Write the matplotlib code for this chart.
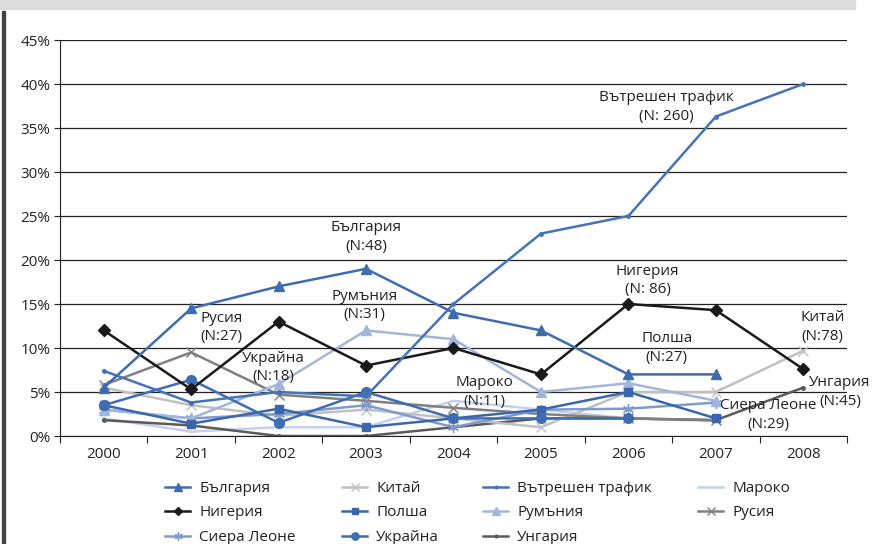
import numpy as np
import matplotlib
matplotlib.use("Agg")
import matplotlib.pyplot as plt
from matplotlib.patches import Rectangle

plt.rcParams['font.family'] = ['Open Sans', 'DejaVu Sans']
plt.rcParams['font.size'] = 11

# данни (%), nan = няма стойност
years = ["2000", "2001", "2002", "2003", "2004", "2005", "2006", "2007", "2008"]
nan = np.nan
bulgaria = [5.5, 14.5, 17.0, 19.0, 14.0, 12.0, 7.0, 7.0, nan]
kitai = [5.5, 3.5, 2.3, 3.0, 2.0, 1.0, 5.0, 5.0, 9.7]
vatreshen = [7.4, 3.8, 5.0, 4.5, 15.0, 23.0, 25.0, 36.3, 40.0]
maroko = [2.0, 0.5, 1.0, 1.0, 4.0, 3.0, 2.0, 1.7, nan]
nigeria = [12.0, 5.3, 13.0, 8.0, 10.0, 7.0, 15.0, 14.3, 7.6]
polsha = [3.5, 1.4, 3.1, 1.0, 2.0, 3.0, 5.0, 2.0, nan]
rumania = [3.0, 2.0, 5.9, 12.0, 11.0, 5.0, 6.0, 4.0, nan]
rusia = [5.8, 9.5, 4.7, 4.0, 3.2, 2.5, 2.0, 1.8, nan]
siera = [3.0, 2.0, 2.5, 3.5, 1.0, 3.0, 3.1, 3.8, nan]
ukraina = [3.5, 6.4, 1.5, 5.0, 2.0, 2.0, 2.0, nan, nan]
ungaria = [1.8, 1.2, 0.0, 0.0, 1.0, 2.0, 2.0, 1.8, 5.5]

# етикети върху графиката: текст, x (индекс година), y (%)
etiketi = [
    ("Вътрешен трафик\n(N: 260)", 6.43, 37.4),
    ("България\n(N:48)", 3.0, 22.6),
    ("Румъния\n(N:31)", 2.98, 14.8),
    ("Русия\n(N:27)", 1.35, 12.3),
    ("Украйна\n(N:18)", 1.94, 7.8),
    ("Нигерия\n(N: 86)", 6.22, 17.7),
    ("Полша\n(N:27)", 6.44, 10.0),
    ("Китай\n(N:78)", 8.22, 12.4),
    ("Мароко\n(N:11)", 4.35, 5.0),
    ("Сиера Леоне\n(N:29)", 7.6, 2.4),
    ("Унгария\n(N:45)", 8.42, 5.0),
]

fig = plt.figure(figsize=(8.76, 5.44), dpi=100)
ax = fig.add_axes([60/876, 1-436/544, 787/876, 396/544])

x = np.arange(len(years))
serii = {}
def linia(y, label, color, marker, ms):
    h, = ax.plot(x, y, color=color, lw=1.8, marker=marker, ms=ms,
                 markeredgecolor=color, markerfacecolor=color, label=label)
    serii[label] = h

linia(maroko, "Мароко", "#c5d0ea", "_", 4)
linia(ungaria, "Унгария", "#5a5a5a", "o", 2.5)
linia(kitai, "Китай", "#c0c0c0", "x", 7)
linia(rusia, "Русия", "#808080", "x", 7)
linia(siera, "Сиера Леоне", "#7f9bcb", (6, 2, 0), 8)
linia(rumania, "Румъния", "#a2b5da", "^", 7)
linia(polsha, "Полша", "#3a66ad", "s", 6)
linia(ukraina, "Украйна", "#3e6db1", "o", 7)
linia(nigeria, "Нигерия", "#1a1a1a", "D", 6)
linia(vatreshen, "Вътрешен трафик", "#4672b6", "o", 2.5)
linia(bulgaria, "България", "#3f6cb0", "^", 7)

for t, tx, ty in etiketi:
    ax.text(tx, ty, t, ha="center", va="center", fontsize=11,
            color="#222222", linespacing=1.3)

ax.set_xlim(-0.5, 8.5)
ax.set_ylim(0, 45)
ax.set_yticks(np.arange(0, 46, 5))
ax.set_yticklabels([f"{v}%" for v in range(0, 46, 5)])
ax.set_xticks(np.arange(-0.5, 9, 1))
ax.set_xticklabels([])
ax.set_xticks(x, minor=True)
ax.set_xticklabels(years, minor=True)
ax.tick_params(axis="x", which="major", length=5, color="#222222")
ax.tick_params(axis="x", which="minor", length=0, pad=8, labelsize=11, labelcolor="#222222")
ax.tick_params(axis="y", length=4, color="#222222", labelcolor="#222222", pad=3)
ax.grid(axis="y", color="#222222", lw=0.9)
ax.set_axisbelow(True)
for s in ["top", "right"]:
    ax.spines[s].set_visible(False)
ax.spines["left"].set_color("#222222")
ax.spines["bottom"].set_color("#222222")

# легенда - 4 колони
koloni = [
    (165, ["България", "Нигерия", "Сиера Леоне"]),
    (342, ["Китай", "Полша", "Украйна"]),
    (483, ["Вътрешен трафик", "Румъния", "Унгария"]),
    (698, ["Мароко", "Русия"]),
]
for px, imena in koloni:
    fig.legend([serii[n] for n in imena], imena, loc="upper left",
               bbox_to_anchor=(px/876, 1 - 481/544), frameon=False,
               fontsize=11, handlelength=1.65, handletextpad=0.6,
               labelspacing=0.62, borderpad=0, borderaxespad=0,
               markerscale=0.75, labelcolor="#222222")

# сива лента горе и лява черта
fig.patches.append(Rectangle((0, 1 - 9/544), 855/876, 9/544, transform=fig.transFigure,
                             color="#dcdcdc", zorder=0))
fig.patches.append(Rectangle((2/876, 0), 3/876, 1 - 11/544, transform=fig.transFigure,
                             color="#444444", zorder=0))

fig.savefig("out.png", dpi=100)
